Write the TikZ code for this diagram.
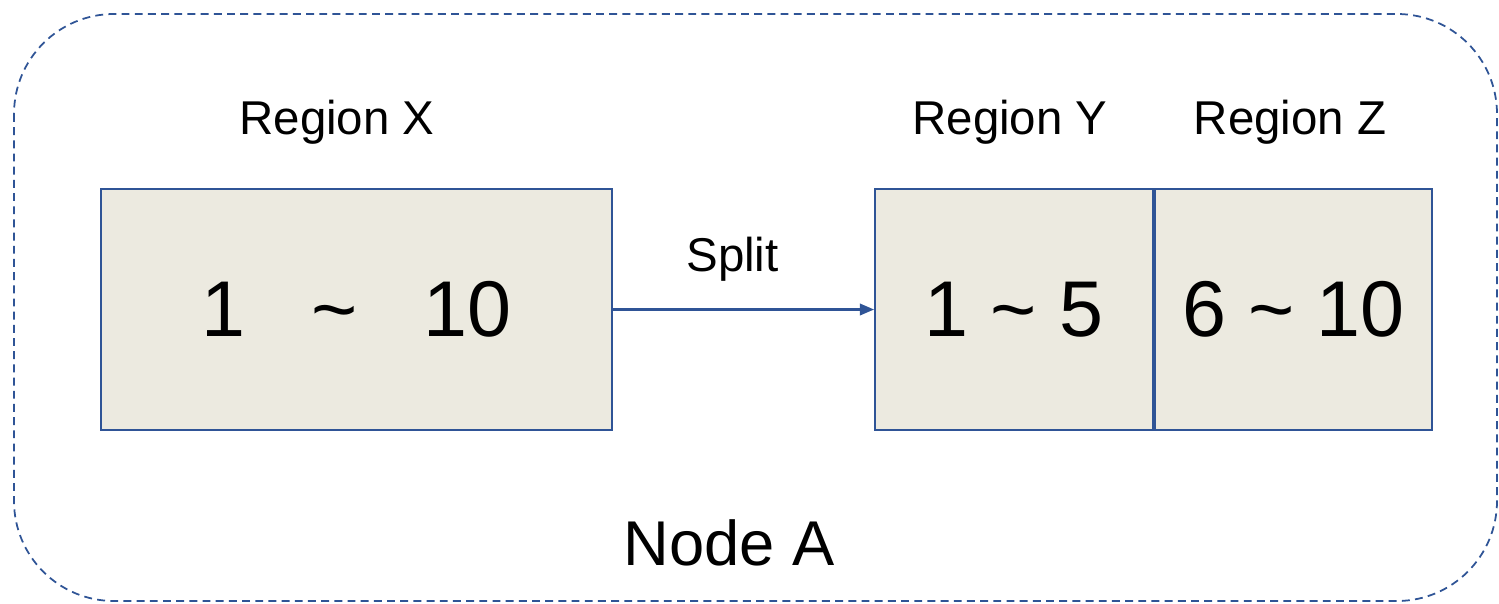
\documentclass[tikz,border=0pt]{standalone}
\usepackage{fontspec}
\setmainfont{Liberation Sans}
\usetikzlibrary{positioning, arrows.meta}
\definecolor{edgeblue}{RGB}{47,84,150}
\definecolor{regionfill}{RGB}{236,234,224}

\begin{document}
\begin{tikzpicture}[node distance=0pt,
    region/.style={draw=edgeblue, line width=1.1pt, fill=regionfill,
        minimum height=4.82cm, inner sep=0pt, font=\fontsize{45}{54}\selectfont},
    regionlabel/.style={font=\fontsize{27}{32}\selectfont, inner sep=0pt},
]
\useasboundingbox (0,0) rectangle (29.98,-12.06);
\draw[edgeblue, line width=1pt, dash pattern=on 4.5pt off 3pt, rounded corners=2cm]
    (0.28,-0.28) rectangle (29.94,-12.02);

\node[region, minimum width=10.22cm] (X) at (7.13,-6.19) {1\ \ \ \textasciitilde\ \ \ 10};
\node[region, minimum width=5.56cm] (Y) at (20.28,-6.19) {1 \textasciitilde{} 5};
\node[region, minimum width=5.54cm, right=of Y] (Z) {6 \textasciitilde{} 10};

\node[regionlabel] (LX) at (6.74,-2.44) {Region X};
\node[regionlabel] (LY) at (20.2,-2.44) {Region Y};
\node[regionlabel] (LZ) at (25.8,-2.44) {Region Z};

\draw[edgeblue, line width=1.2pt, -{Triangle[length=8pt,width=6.5pt]}] (X.east) -- (Y.west)
    node[midway, above=0.54cm, xshift=-0.22cm, regionlabel, text=black] (split) {Split};

\node[font=\fontsize{36}{43}\selectfont, inner sep=0pt] (nodeA) at (14.58,-10.86) {Node A};
\end{tikzpicture}
\end{document}
